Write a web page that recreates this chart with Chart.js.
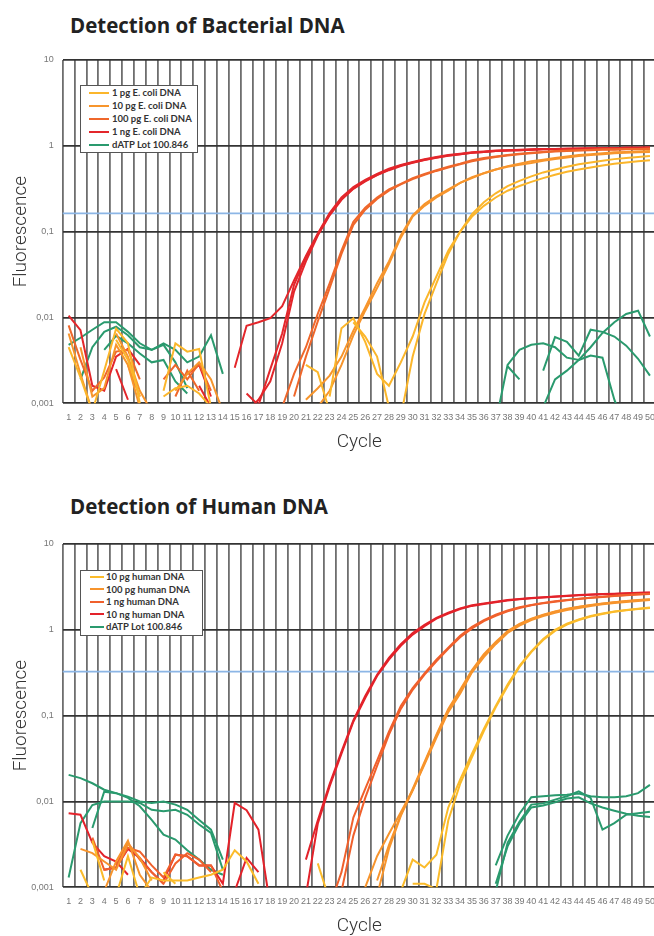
<!DOCTYPE html>
<html>
<head>
<meta charset="utf-8">
<script src="https://cdn.jsdelivr.net/npm/chart.js@4.4.1/dist/chart.umd.min.js"></script>
<style>
html, body { margin: 0; padding: 0; width: 654px; height: 936px; overflow: hidden; background: #fff; }
.panel { position: absolute; left: 0; width: 664px; height: 452px; }
h2 { position: absolute; left: 70px; margin: 0; font: 700 20.5px "Open Sans", sans-serif; line-height: 22px; color: #222; }
.legend { position: absolute; box-sizing: border-box; background: #fff; border: 1px solid #555; font: 700 9.5px Lato, sans-serif; color: #333; }
.legend div { white-space: nowrap; }
.legend span { display: inline-block; height: 2px; vertical-align: middle; position: relative; top: -1px; }
</style>
</head>
<body>
<h2 style="top:14px">Detection of Bacterial DNA</h2>
<canvas id="bact" class="panel" width="664" height="452" style="top:0"></canvas>
<div id="legBact" class="legend" style="left:80px;top:85px;width:118px;height:68px;padding:0 0 0 8px;line-height:13px"></div>

<h2 style="top:495px">Detection of Human DNA</h2>
<canvas id="human" class="panel" width="664" height="452" style="top:484px"></canvas>
<div id="legHuman" class="legend" style="left:80px;top:570px;width:123px;height:66px;padding:0 0 0 9px;line-height:12.6px"></div>

<script>
// cycles 1..50
var cycles = [];
for (var c = 1; c <= 50; c++) cycles.push(String(c));

var yTicks = [0.001, 0.01, 0.1, 1, 10];

// each series: list of segments [startCycle, value, value, ...]
// ---- Detection of Bacterial DNA ----
var ecoli1pg_a = [[1, 0.0045, 0.002, 0.0008], [4, 0.0024, 0.0074, 0.005, 0.001], [9, 0.0014, 0.005, 0.004, 0.0043, 0.0009],
  [23, 0.0012, 0.0075, 0.0098, 0.0052, 0.0022, 0.0016, 0.003, 0.006, 0.015, 0.03, 0.06, 0.1, 0.15, 0.2, 0.25, 0.3, 0.34, 0.38, 0.42, 0.46, 0.5, 0.53, 0.56, 0.59, 0.62, 0.64, 0.66, 0.68]];
var ecoli1pg_b = [[5, 0.0055, 0.0032, 0.0012], [9, 0.0012, 0.0015, 0.0016, 0.0013, 0.0009], [21, 0.0028, 0.0023, 0.0008],
  [25, 0.0088, 0.006, 0.0035, 0.0009, 0.0007, 0.0035, 0.011, 0.025, 0.055, 0.1, 0.16, 0.22, 0.28, 0.34, 0.39, 0.44, 0.49, 0.53, 0.57, 0.61, 0.64, 0.67, 0.7, 0.72, 0.74, 0.76]];
var ecoli10pg_a = [[1, 0.0065, 0.0022, 0.0008], [5, 0.0065, 0.0035, 0.0014, 0.0008], [10, 0.0014, 0.0022, 0.003, 0.0019, 0.0008],
  [22, 0.0009, 0.0014, 0.0028, 0.0062, 0.012, 0.022, 0.042, 0.085, 0.15, 0.2, 0.25, 0.3, 0.37, 0.42, 0.48, 0.53, 0.57, 0.6, 0.63, 0.67, 0.7, 0.73, 0.76, 0.78, 0.8, 0.82, 0.83, 0.84, 0.85]];
var ecoli10pg_b = [[2, 0.0045, 0.0012], [4, 0.0015, 0.0048, 0.0028, 0.0009],
  [21, 0.0011, 0.0015, 0.0021, 0.0035, 0.007, 0.013, 0.025, 0.045, 0.09, 0.155, 0.21, 0.26, 0.31, 0.37, 0.43, 0.48, 0.53, 0.58, 0.62, 0.66, 0.69, 0.72, 0.75, 0.78, 0.8, 0.82, 0.84, 0.85, 0.86, 0.87]];
var ecoli100pg_a = [[1, 0.0081, 0.0032, 0.0014], [4, 0.002, 0.004, 0.0042, 0.0019], [9, 0.0019, 0.0028, 0.0019, 0.0029, 0.0014],
  [19, 0.0009, 0.0022, 0.0045, 0.011, 0.025, 0.06, 0.13, 0.19, 0.25, 0.31, 0.36, 0.42, 0.47, 0.52, 0.57, 0.62, 0.68, 0.72, 0.75, 0.78, 0.81, 0.83, 0.85, 0.87, 0.88, 0.89, 0.9, 0.91, 0.91, 0.92, 0.92, 0.93]];
var ecoli100pg_b = [[6, 0.0028, 0.0012], [10, 0.0012, 0.0024, 0.0014],
  [20, 0.0012, 0.0035, 0.009, 0.022, 0.055, 0.12, 0.18, 0.24, 0.3, 0.355, 0.41, 0.46, 0.51, 0.56, 0.61, 0.66, 0.7, 0.74, 0.77, 0.8, 0.82, 0.84, 0.86, 0.87, 0.88, 0.89, 0.9, 0.9, 0.91, 0.91, 0.92]];
var ecoli1ng_a = [[1, 0.0105, 0.0071, 0.0016], [4, 0.0014, 0.0035, 0.0043, 0.0028], [12, 0.0016, 0.0009],
  [15, 0.0026, 0.008, 0.0088, 0.0098, 0.0135, 0.027, 0.052, 0.095, 0.165, 0.25, 0.33, 0.40, 0.47, 0.54, 0.60, 0.65, 0.70, 0.74, 0.78, 0.81, 0.84, 0.86, 0.88, 0.89, 0.90, 0.91, 0.92, 0.92, 0.93, 0.93, 0.94, 0.94, 0.94, 0.95, 0.95, 0.95]];
var ecoli1ng_b = [[5, 0.0025, 0.0011], [11, 0.0022, 0.0028, 0.0012],
  [16, 0.0013, 0.00095, 0.0025, 0.0065, 0.024, 0.05, 0.092, 0.16, 0.24, 0.32, 0.39, 0.46, 0.53, 0.59, 0.64, 0.69, 0.73, 0.77, 0.8, 0.83, 0.85, 0.87, 0.88, 0.89, 0.9, 0.91, 0.91, 0.92, 0.92, 0.93, 0.93, 0.93, 0.94, 0.94, 0.94]];
var ecoli1ng_c = [[16, 0.0008, 0.0011, 0.0018, 0.005, 0.02, 0.045, 0.09, 0.155, 0.235, 0.315, 0.385, 0.455, 0.52, 0.58, 0.635, 0.685, 0.725, 0.765, 0.8, 0.83, 0.85, 0.87, 0.88, 0.89, 0.9, 0.91, 0.92, 0.92, 0.93, 0.93, 0.94, 0.94, 0.95, 0.95, 0.96]];
var bactDatp_a = [[1, 0.0048, 0.0058, 0.0072, 0.0088, 0.0088, 0.0068, 0.005, 0.0042, 0.0048, 0.003, 0.0015],
  [37, 0.0006, 0.0028, 0.0042, 0.0048, 0.005, 0.0045, 0.0034, 0.0032, 0.0045, 0.0066, 0.0088, 0.011, 0.012, 0.006]];
var bactDatp_b = [[2, 0.0019, 0.0045, 0.0068, 0.0078, 0.0062, 0.0045, 0.0042, 0.005, 0.0042, 0.003, 0.0035, 0.0062, 0.0022],
  [38, 0.0027, 0.0019], [41, 0.0024, 0.0059, 0.0052, 0.0036, 0.0072, 0.0068, 0.006, 0.0047, 0.0033, 0.0021]];
var bactDatp_c = [[4, 0.0042, 0.0061, 0.005, 0.0038, 0.003, 0.0032, 0.0018, 0.0013],
  [41, 0.0009, 0.0019, 0.0024, 0.0032, 0.0036, 0.0034, 0.0011, 0.0005]];

var bactNames = ['1 pg E. coli DNA', '10 pg E. coli DNA', '100 pg E. coli DNA', '1 ng E. coli DNA', 'dATP Lot 100.846'];
var bactColors = ['#fbb62b', '#f7952c', '#ef672b', '#e3262b', '#2a9a6e'];
var bactSeries = [[ecoli1pg_a, ecoli1pg_b], [ecoli10pg_a, ecoli10pg_b], [ecoli100pg_a, ecoli100pg_b],
  [ecoli1ng_a, ecoli1ng_b, ecoli1ng_c], [bactDatp_a, bactDatp_b, bactDatp_c]];
var bactThreshold = 0.163;

// ---- Detection of Human DNA ----
var human10pg_a = [[2, 0.0016, 0.0008], [5, 0.0008, 0.0023, 0.0008], [8, 0.0013, 0.0012, 0.0012, 0.0012, 0.0013, 0.0014, 0.0016, 0.0027, 0.002, 0.0011],
  [29, 0.0009, 0.0021, 0.0017, 0.0024, 0.0085, 0.018, 0.036, 0.07, 0.13, 0.23, 0.38, 0.56, 0.78, 1.0, 1.18, 1.32, 1.45, 1.55, 1.63, 1.7, 1.76, 1.82]];
var human10pg_b = [[3, 0.0035, 0.0012], [9, 0.0015, 0.0011], [22, 0.0019, 0.0007],
  [30, 0.0011, 0.0011, 0.00095, 0.006, 0.016, 0.033, 0.066, 0.125, 0.22, 0.37, 0.55, 0.76, 0.97, 1.15, 1.3, 1.43, 1.53, 1.62, 1.69, 1.75, 1.8]];
var human100pg_a = [[2, 0.0028, 0.0025, 0.002, 0.0016], [6, 0.0032, 0.0022, 0.0012],
  [26, 0.001, 0.0023, 0.0042, 0.0075, 0.0135, 0.027, 0.055, 0.11, 0.18, 0.32, 0.48, 0.68, 0.92, 1.12, 1.3, 1.45, 1.58, 1.7, 1.8, 1.9, 1.98, 2.05, 2.11, 2.17, 2.22]];
var human100pg_b = [[4, 0.0009, 0.002, 0.0035, 0.0014, 0.0009],
  [27, 0.0008, 0.0028, 0.0068, 0.0135, 0.028, 0.058, 0.115, 0.19, 0.33, 0.5, 0.7, 0.95, 1.15, 1.33, 1.48, 1.62, 1.74, 1.84, 1.94, 2.02, 2.09, 2.15, 2.21, 2.26]];
var human100pg_c = [[27, 0.0012, 0.0031, 0.007, 0.014, 0.029, 0.06, 0.12, 0.2, 0.34, 0.52, 0.72, 0.97, 1.17, 1.35, 1.5, 1.64, 1.76, 1.86, 1.95, 2.03, 2.1, 2.16, 2.22, 2.27]];
var human1ng_a = [[3, 0.0038, 0.0016, 0.0017, 0.0029, 0.0026, 0.0018, 0.0013, 0.0024, 0.0023, 0.0018, 0.0018, 0.0009],
  [23, 0.0006, 0.0015, 0.0065, 0.014, 0.03, 0.065, 0.13, 0.21, 0.31, 0.45, 0.62, 0.85, 1.08, 1.3, 1.5, 1.68, 1.83, 1.95, 2.06, 2.15, 2.23, 2.3, 2.37, 2.43, 2.49, 2.54, 2.59, 2.63]];
var human1ng_b = [[5, 0.0018, 0.0033, 0.0021, 0.0015, 0.0011, 0.0019, 0.0025, 0.0021, 0.0015],
  [24, 0.0009, 0.004, 0.011, 0.026, 0.06, 0.12, 0.2, 0.3, 0.43, 0.6, 0.82, 1.04, 1.26, 1.46, 1.64, 1.8, 1.93, 2.04, 2.13, 2.21, 2.29, 2.36, 2.42, 2.48, 2.53, 2.58, 2.62]];
var human10ng_a = [[1, 0.0073, 0.007, 0.0033, 0.0023, 0.002, 0.0014], [9, 0.0012, 0.0024, 0.0023, 0.0018, 0.0018, 0.0009], [14, 0.0011, 0.0096, 0.0079, 0.0047, 0.0006],
  [21, 0.0008, 0.0055, 0.015, 0.036, 0.085, 0.16, 0.29, 0.45, 0.65, 0.88, 1.1, 1.35, 1.55, 1.75, 1.9, 2.0, 2.1, 2.2, 2.27, 2.33, 2.38, 2.43, 2.48, 2.52, 2.56, 2.59, 2.62, 2.65, 2.68, 2.7]];
var human10ng_b = [[4, 0.0016, 0.0017, 0.0028, 0.0022, 0.0015, 0.0011], [15, 0.0009, 0.0022, 0.0015],
  [21, 0.0021, 0.006, 0.016, 0.038, 0.088, 0.17, 0.3, 0.47, 0.68, 0.92, 1.14, 1.38, 1.58, 1.78, 1.93, 2.03, 2.13, 2.22, 2.29, 2.35, 2.4, 2.45, 2.5, 2.54, 2.58, 2.61, 2.64, 2.67, 2.7, 2.72]];
var humanDatp_a = [[1, 0.0204, 0.0187, 0.0163, 0.0137, 0.0125, 0.0114, 0.01, 0.0096, 0.01, 0.0092, 0.008, 0.0061, 0.0047, 0.0021],
  [37, 0.0009, 0.0033, 0.0058, 0.0092, 0.0095, 0.0105, 0.0115, 0.0131, 0.011, 0.0047, 0.0056, 0.007, 0.0073, 0.0076]];
var humanDatp_b = [[1, 0.0013, 0.0056, 0.0091, 0.01, 0.01, 0.01, 0.0096, 0.008, 0.0077, 0.008, 0.007, 0.0054, 0.0043, 0.0016],
  [37, 0.0018, 0.004, 0.0072, 0.0112, 0.0115, 0.0118, 0.012, 0.0124, 0.0115, 0.0112, 0.0112, 0.0115, 0.0125, 0.0156]];
var humanDatp_c = [[3, 0.0049, 0.013, 0.0125, 0.011, 0.0088, 0.0061, 0.0041, 0.0036, 0.0027, 0.0021, 0.0016, 0.0014],
  [37, 0.0011, 0.003, 0.0055, 0.0085, 0.009, 0.0098, 0.0108, 0.0112, 0.0095, 0.0085, 0.0078, 0.0072, 0.0068, 0.0066]];

var humanNames = ['10 pg human DNA', '100 pg human DNA', '1 ng human DNA', '10 ng human DNA', 'dATP Lot 100.846'];
var humanColors = ['#fbbb2a', '#f7942c', '#f0602c', '#e3222a', '#2a9a6e'];
var humanSeries = [[human10pg_a, human10pg_b], [human100pg_a, human100pg_b, human100pg_c],
  [human1ng_a, human1ng_b], [human10ng_a, human10ng_b], [humanDatp_a, humanDatp_b, humanDatp_c]];
var humanThreshold = 0.325;

// segments -> 50 values with gaps
function expand(segs) {
  var out = cycles.map(function() { return null; });
  segs.forEach(function(s) {
    for (var i = 1; i < s.length; i++) out[s[0] - 2 + i] = s[i];
  });
  return out;
}

var thresholdLine = {
  id: 'thresholdLine',
  beforeDatasetsDraw: function(chart, args, opts) {
    var ctx = chart.ctx, area = chart.chartArea;
    var y = chart.scales.y.getPixelForValue(opts.value);
    ctx.save();
    ctx.strokeStyle = '#8cb6e6';
    ctx.lineWidth = 1.8;
    ctx.beginPath();
    ctx.moveTo(area.left, y);
    ctx.lineTo(area.right, y);
    ctx.stroke();
    ctx.restore();
  }
};

function makeChart(id, legId, names, colors, series, threshold, swatch) {
  var datasets = [];
  series.forEach(function(group, g) {
    group.forEach(function(segs) {
      datasets.push({
        label: names[g],
        data: expand(segs),
        borderColor: colors[g],
        borderWidth: 2,
        pointRadius: 0,
        tension: 0,
        fill: false
      });
    });
  });

  var leg = document.getElementById(legId);
  names.forEach(function(n, i) {
    leg.innerHTML += '<div><span style="width:' + swatch + 'px;background:' + colors[i] + ';margin-right:' + (swatch > 16 ? 3 : 2) + 'px"></span>' + n + '</div>';
  });

  new Chart(document.getElementById(id), {
    type: 'line',
    data: { labels: cycles, datasets: datasets },
    plugins: [thresholdLine],
    options: {
      responsive: false,
      animation: false,
      layout: { padding: { top: 60, left: 0, right: 6, bottom: 0 } },
      plugins: {
        legend: { display: false },
        tooltip: { enabled: false },
        thresholdLine: { value: threshold }
      },
      scales: {
        x: {
          type: 'category',
          offset: true,
          grid: { offset: true, color: '#6e6e6e', lineWidth: 1.8, drawTicks: false },
          border: { display: false },
          ticks: { autoSkip: false, maxRotation: 0, padding: 9, color: '#777', font: { size: 9 } },
          title: { display: true, text: 'Cycle', color: '#333', padding: 0,
            font: { family: 'Roboto', size: 19, weight: 300, lineHeight: 1 } },
          afterFit: function(s) { s.height = 48.7; }
        },
        y: {
          type: 'logarithmic',
          min: 0.001,
          max: 10,
          afterBuildTicks: function(s) { s.ticks = yTicks.map(function(v) { return { value: v }; }); },
          grid: { color: '#333', lineWidth: 1.8, drawTicks: false },
          border: { display: false },
          ticks: { padding: 9, color: '#777', font: { size: 9 },
            callback: function(v) { return String(v).replace('.', ','); } },
          title: { display: true, text: 'Fluorescence', color: '#333', padding: { top: 10, bottom: 0 },
            font: { family: 'Roboto', size: 19, weight: 300, lineHeight: 1.2 } },
          afterFit: function(s) { s.width = 62.7; }
        }
      }
    }
  });
}

Chart.defaults.font.family = '"Liberation Sans", Arial, sans-serif';
makeChart('bact', 'legBact', bactNames, bactColors, bactSeries, bactThreshold, 20);
makeChart('human', 'legHuman', humanNames, humanColors, humanSeries, humanThreshold, 14);
</script>
</body>
</html>
